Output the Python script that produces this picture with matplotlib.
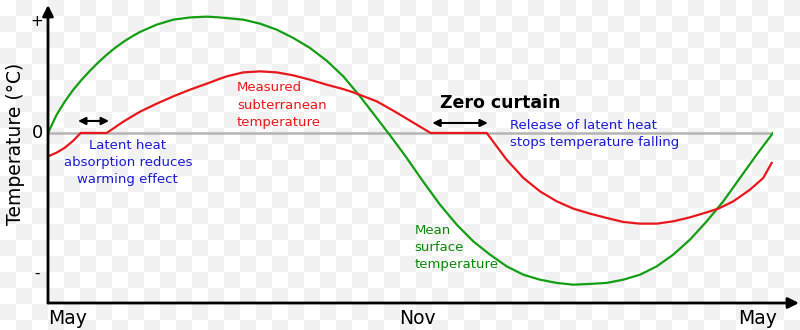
import numpy as np
import matplotlib
matplotlib.use('Agg')
import matplotlib.pyplot as plt

# Месяцы от мая (0) до мая (12), температура в относительных единицах (+ = 1)
surface_month = [0, 0.144, 0.281, 0.419, 0.558, 0.695, 0.833, 0.972, 1.109, 1.246,
                 1.385, 1.523, 1.799, 2.074, 2.350, 2.627, 2.847, 3.233, 3.509, 3.785,
                 4.060, 4.336, 4.613, 4.888, 5.164, 5.441, 5.715, 5.937, 6.212, 6.488,
                 6.765, 7.040, 7.316, 7.593, 7.868, 8.143, 8.420, 8.695, 8.971, 9.248,
                 9.522, 9.799, 10.075, 10.350, 10.626, 10.903, 11.177, 11.454, 11.730, 12.0]
surface_temp = [0, 0.165, 0.285, 0.390, 0.480, 0.561, 0.636, 0.705, 0.766, 0.820,
                0.868, 0.910, 0.976, 1.021, 1.041, 1.048, 1.041, 1.021, 0.985, 0.931,
                0.856, 0.766, 0.651, 0.510, 0.330, 0.135, -0.060, -0.225, -0.440, -0.646,
                -0.826, -0.977, -1.096, -1.202, -1.277, -1.322, -1.351, -1.367, -1.360, -1.351,
                -1.322, -1.277, -1.202, -1.096, -0.961, -0.796, -0.616, -0.405, -0.195, 0]

ground_month = [0, 0.144, 0.281, 0.419, 0.541, 0.972, 1.246, 1.523, 1.799, 2.074,
                2.350, 2.627, 2.847, 2.958, 3.233, 3.509, 3.785, 4.060, 4.336, 4.613,
                4.888, 5.053, 5.441, 5.715, 5.937, 6.157, 6.334, 7.261, 7.427, 7.592,
                7.868, 8.143, 8.420, 8.695, 8.971, 9.248, 9.522, 9.799, 10.075, 10.350,
                10.626, 10.903, 11.095, 11.343, 11.619, 11.839, 11.978]
ground_temp = [-0.211, -0.177, -0.132, -0.069, 0, 0, 0.102, 0.192, 0.264, 0.330,
               0.390, 0.444, 0.489, 0.510, 0.546, 0.555, 0.546, 0.519, 0.480, 0.435,
               0.395, 0.366, 0.285, 0.201, 0.129, 0.057, 0, 0, -0.121, -0.241,
               -0.405, -0.526, -0.616, -0.682, -0.727, -0.766, -0.802, -0.817, -0.817, -0.796,
               -0.760, -0.715, -0.682, -0.616, -0.511, -0.405, -0.270]

month_labels = ['May', 'Nov', 'May']
level_labels = ['+', '0', '-']
level_values = [1.0, 0.0, -1.26]

green = '#149e14'
red = '#e8171c'
blue = '#1a1ad0'
text_green = '#0a870a'

fig = plt.figure(figsize=(8, 3.3), dpi=100)

# фон в клетку, как в исходной картинке
bg_ax = fig.add_axes([0, 0, 1, 1], zorder=-1)
yy, xx = np.mgrid[0:330, 0:800]
checker = (xx // 16 + yy // 16) % 2
bg_ax.imshow(checker, cmap='gray_r', vmin=0, vmax=18, interpolation='nearest', aspect='auto')
bg_ax.axis('off')

ax = fig.add_axes([48 / 800, 27 / 330, 725 / 800, 298 / 330])
ax.set_facecolor('none')
ax.set_xlim(0, 12)
ax.set_ylim(-1.532, 1.153)
ax.axis('off')

ax.plot([0, 12], [0, 0], color='#b4b4b4', lw=1.8, zorder=1)
ax.plot(surface_month, surface_temp, color=green, lw=1.6, zorder=3, solid_joinstyle='round')
ax.plot(ground_month, ground_temp, color=red, lw=1.6, zorder=3, solid_joinstyle='round')

# оси со стрелками
ax.annotate('', xy=(12.43, -1.532), xytext=(0, -1.532), annotation_clip=False,
            arrowprops=dict(arrowstyle='-|>', lw=2, color='black', mutation_scale=16,
                            shrinkA=0, shrinkB=0))
ax.annotate('', xy=(0, 1.153), xytext=(0, -1.532), annotation_clip=False,
            arrowprops=dict(arrowstyle='-|>', lw=2, color='black', mutation_scale=16,
                            shrinkA=0, shrinkB=0))

ax.text(0, -1.676, month_labels[0], ha='left', va='center', fontsize=13.5, clip_on=False)
ax.text(6.12, -1.676, month_labels[1], ha='center', va='center', fontsize=13.5, clip_on=False)
ax.text(12.07, -1.676, month_labels[2], ha='right', va='center', fontsize=13.5, clip_on=False)

for lab, val in zip(level_labels, level_values):
    fs = 13 if lab == '0' else 11
    ax.text(-0.18, val, lab, ha='center', va='center', fontsize=fs, clip_on=False)

ax.text(-0.546, -0.1, 'Temperature (°C)', rotation=90, ha='center', va='center',
        fontsize=13.5, clip_on=False)

# стрелки «<->»
ax.annotate('', xy=(1.01, 0.108), xytext=(0.497, 0.108),
            arrowprops=dict(arrowstyle='<|-|>', lw=1.5, color='black', mutation_scale=11,
                            shrinkA=0, shrinkB=0))
ax.annotate('', xy=(7.28, 0.09), xytext=(6.36, 0.09),
            arrowprops=dict(arrowstyle='<|-|>', lw=1.5, color='black', mutation_scale=11,
                            shrinkA=0, shrinkB=0))

ax.text(1.32, -0.054, 'Latent heat\nabsorption reduces\nwarming effect', ha='center',
        va='top', color=blue, fontsize=9.5, linespacing=1.4)
ax.text(3.13, 0.468, 'Measured\nsubterranean\ntemperature', ha='left', va='top',
        color=red, fontsize=9.5, linespacing=1.45)
ax.text(7.48, 0.27, 'Zero curtain', ha='center', va='center', fontsize=12.5,
        fontweight='bold')
ax.text(7.65, -0.009, 'Release of latent heat\nstops temperature falling', ha='left',
        va='center', color=blue, fontsize=9.5, linespacing=1.4)
ax.text(6.07, -1.036, 'Mean\nsurface\ntemperature', ha='left', va='center',
        color=text_green, fontsize=9.5, linespacing=1.4)

fig.savefig('out.png', dpi=100)
